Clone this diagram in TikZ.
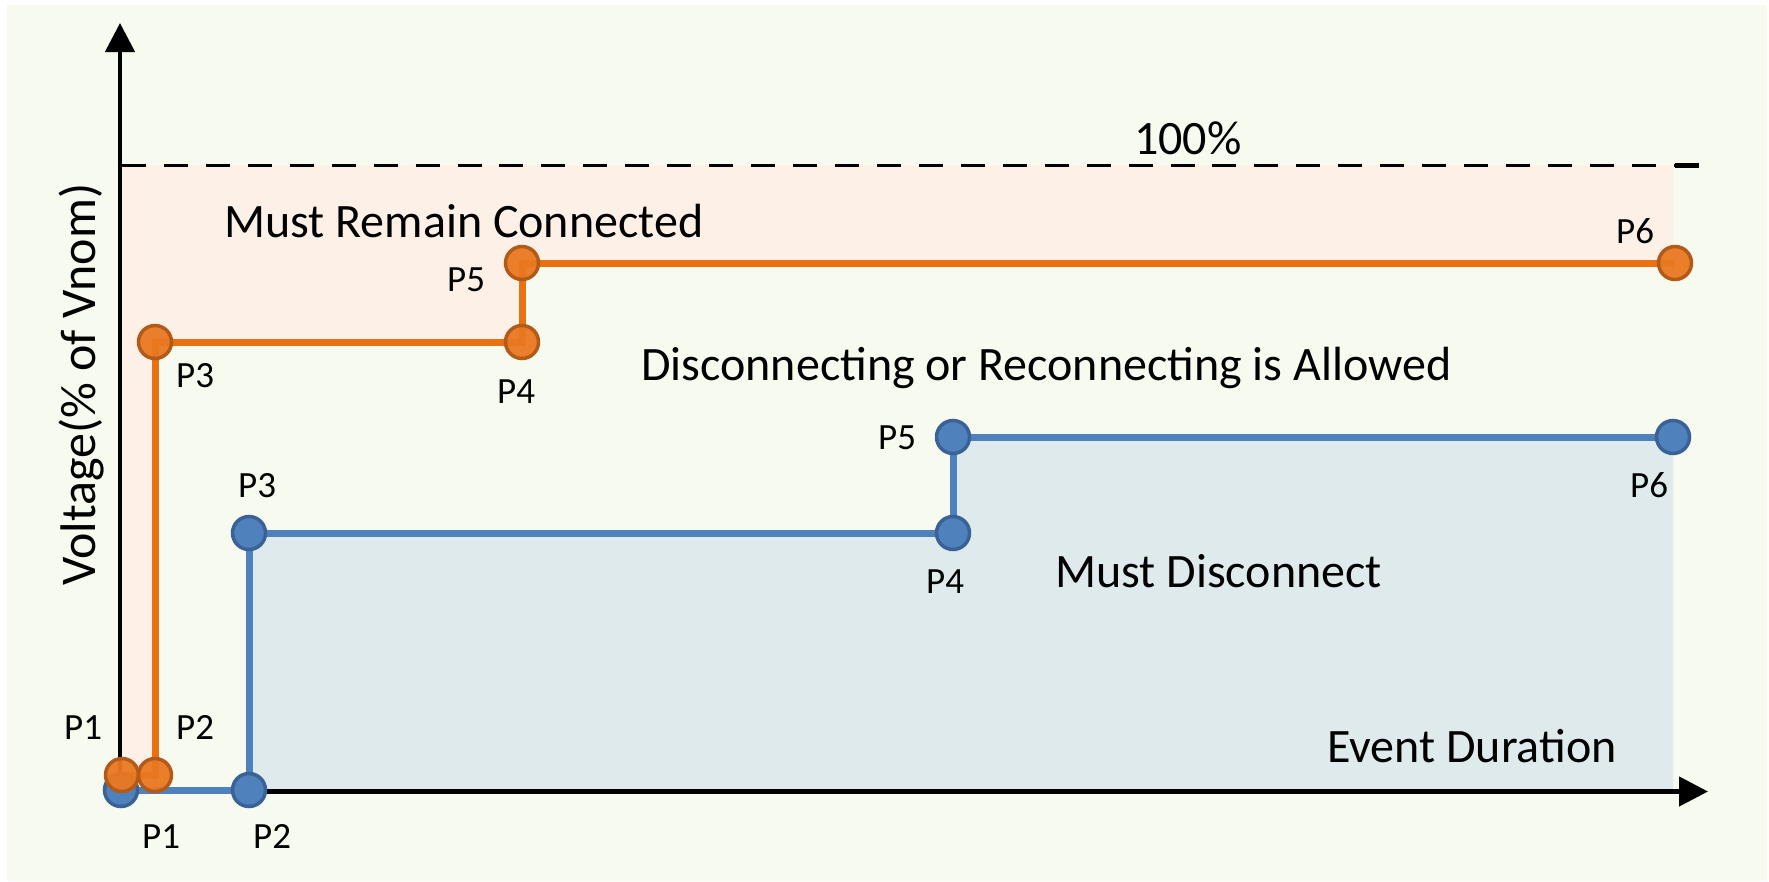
\documentclass[tikz,border=0pt]{standalone}
\usepackage{fontspec}
\setmainfont{Carlito}
\usetikzlibrary{arrows.meta}
\definecolor{bgc}{RGB}{247,250,239}
\definecolor{pinkc}{RGB}{253,240,231}
\definecolor{bluereg}{RGB}{222,234,236}
\definecolor{orgc}{RGB}{233,113,17}
\definecolor{orgfill}{RGB}{234,120,32}
\definecolor{orgdraw}{RGB}{178,90,26}
\definecolor{bluc}{RGB}{79,129,189}
\definecolor{bludraw}{RGB}{58,98,148}
\tikzset{
  bigtxt/.style={font=\fontsize{48}{57}\selectfont, inner sep=0pt, anchor=base west},
  lbl/.style={font=\fontsize{37}{44}\selectfont, inner sep=0pt, anchor=base west},
  oline/.style={draw=orgc, line width=7pt},
  bline/.style={draw=bluc, line width=7pt},
  ocirc/.style={circle, fill=orgfill, draw=orgdraw, line width=3.5pt, minimum size=33pt, inner sep=0pt, fill opacity=0.95},
  bcirc/.style={circle, fill=bluc, draw=bludraw, line width=3.5pt, minimum size=33pt, inner sep=0pt},
  axis/.style={line width=4.5pt, -{Triangle[length=29pt,width=29pt]}},
}
\begin{document}
\begin{tikzpicture}[x=1pt,y=-1pt]
\useasboundingbox (0,0) rectangle (1769,881);
\fill[white] (0,0) rectangle (1769,881);
\fill[bgc] (7,5) rectangle (1767,881);
% coordinates
\coordinate (oP1) at (122,775);
\coordinate (oP2) at (155,775);
\coordinate (oP3) at (155,342);
\coordinate (oP4) at (522,342);
\coordinate (oP5) at (522,263);
\coordinate (oP6) at (1675,263);
\coordinate (bP1) at (121,790);
\coordinate (bP2) at (249,790);
\coordinate (bP3) at (249,533);
\coordinate (bP4) at (953,533);
\coordinate (bP5) at (953,437);
\coordinate (bP6) at (1673,437);
\coordinate (origin) at (120,791.5);
\coordinate (ytip) at (120,23);
\coordinate (xtip) at (1708,791.5);
\coordinate (d0) at (122,165);
\coordinate (d1) at (1675,165);
\coordinate (d2) at (1699,165);
% regions
\fill[pinkc] (120,165) -- (1673,165) -- (1673,263) -- (oP5) -- (oP4) -- (oP3) -- (oP2) -- (120,775) -- cycle;
\fill[bluereg] (bP2) -- (bP3) -- (bP4) -- (bP5) -- (1673,437) -- (1673,791.5) -- (249,791.5) -- cycle;
% dashed 100% line
\draw[line width=3pt, dash pattern=on 24pt off 17.94pt] (d0) -- (d1);
\draw[line width=5pt] (d1) -- (d2);
% axes
\draw[axis] (origin) -- (ytip);
\draw[axis] (origin) -- (xtip);
% curves
\draw[bline] (bP1) -- (bP2) -- (bP3) -- (bP4) -- (bP5) -- (bP6);
\draw[oline] (oP1) -- (oP2) -- (oP3) -- (oP4) -- (oP5) -- (oP6);
% points
\foreach \i in {1,...,6} { \node[bcirc] (bc\i) at (bP\i) {}; }
\foreach \i in {1,...,6} { \node[ocirc] (oc\i) at (oP\i) {}; }
% labels orange
\node[lbl] (loP1) at (64,739) {P1};
\node[lbl] (loP2) at (176,739) {P2};
\node[lbl] (loP3) at (176,387) {P3};
\node[lbl] (loP4) at (497,403) {P4};
\node[lbl] (loP5) at (447,291) {P5};
\node[lbl] (loP6) at (1616,243) {P6};
% labels blue
\node[lbl] (lbP1) at (142,848) {P1};
\node[lbl] (lbP2) at (253,848) {P2};
\node[lbl] (lbP3) at (238,497) {P3};
\node[lbl] (lbP4) at (926,593) {P4};
\node[lbl] (lbP5) at (878,449) {P5};
\node[lbl] (lbP6) at (1630,497) {P6};
% texts
\node[bigtxt] (t100) at (1134,154) {100\%};
\node[bigtxt] (tmrc) at (224,237) {Must Remain Connected};
\node[bigtxt] (tdra) at (641,380) {Disconnecting or Reconnecting is Allowed};
\node[bigtxt] (tmd) at (1055,587) {Must Disconnect};
\node[bigtxt] (ted) at (1327,762) {Event Duration};
\node[font=\fontsize{50}{60}\selectfont, inner sep=0pt, anchor=base west, rotate=90] (tv) at (95,586) {Voltage(\% of Vnom)};
\end{tikzpicture}
\end{document}
